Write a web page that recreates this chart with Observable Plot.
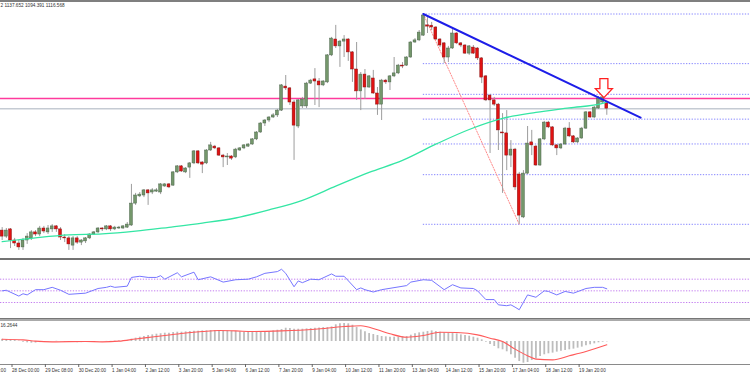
<!DOCTYPE html>
<html><head><meta charset="utf-8">
<script src="https://cdn.jsdelivr.net/npm/d3@7"></script>
<script src="https://cdn.jsdelivr.net/npm/@observablehq/plot@0.6"></script>
<style>
body{margin:0;background:#fff;}
#wrap{position:relative;width:750px;height:375px;overflow:hidden;background:#fff;font-family:"Liberation Sans",Arial,sans-serif;}
#wrap svg{position:absolute;left:0;}
.sep{position:absolute;left:0;width:750px;}
</style></head><body>
<div id="wrap"></div>
<script>
// ---- 4H candles, bar 0 = 28 Dec 00:00 ----
const barIdx = d3.range(-2, 144);
const openP = [710,690,714,677,667,654,677,684,704,697,717,704,714,724,714,687,684,660,684,670,674,684,697,704,717,714,724,714,717,717,720,727,800,824,827,844,837,840,837,857,864,860,904,924,904,920,934,974,937,934,977,990,984,960,954,957,954,977,984,990,997,1014,1037,1067,1077,1087,1094,1110,1190,1184,1137,1057,1124,1124,1200,1214,1207,1194,1204,1294,1347,1324,1340,1347,1304,1247,1174,1230,1187,1217,1167,1130,1210,1204,1224,1234,1260,1260,1287,1337,1344,1360,1394,1393,1387,1347,1334,1287,1317,1367,1334,1327,1300,1320,1317,1284,1224,1160,1144,1130,1037,1034,960,980,897,754,900,1004,990,927,1014,1070,1054,994,984,997,1050,1024,1004,1017,1050,1104,1087,1117,1137,1134.012];
const highP = [720,717,717,684,677,684,700,710,710,724,724,727,730,727,720,697,690,690,690,680,687,700,707,720,720,727,727,724,724,727,737,864,834,837,847,847,850,850,867,867,867,907,927,927,920,937,977,977,940,980,1004,994,987,964,967,960,984,987,997,1000,1017,1040,1070,1080,1090,1100,1114,1197,1227,1187,1144,1147,1154,1204,1214,1250,1217,1210,1297,1354,1394,1344,1360,1350,1307,1337,1237,1247,1227,1244,1187,1214,1214,1227,1287,1264,1270,1290,1340,1350,1377,1432,1420,1404,1390,1350,1337,1324,1380,1370,1337,1330,1327,1327,1320,1287,1227,1164,1154,1134,1100,1110,1010,984,904,910,1057,1044,994,1017,1074,1074,1057,997,1000,1054,1070,1027,1020,1054,1107,1107,1124,1157,1160,1137.652];
const lowP = [677,684,650,657,644,644,664,677,690,690,700,697,704,704,677,670,644,644,664,660,667,680,694,700,707,710,707,710,714,714,717,724,794,820,820,794,830,837,830,854,850,857,900,904,900,884,930,930,900,930,974,980,957,920,927,944,950,974,980,987,994,1010,1034,1057,1070,1084,1087,1107,1177,1127,944,1050,1117,1117,1197,1127,1120,1190,1200,1290,1317,1254,1287,1274,1204,1144,1110,1147,1184,1164,1094,1077,1197,1177,1220,1230,1250,1257,1284,1334,1340,1357,1367,1377,1344,1320,1267,1270,1314,1330,1320,1297,1294,1297,1277,1200,1140,967,1124,977,834,910,920,844,731,750,897,960,924,924,1010,1050,990,960,980,994,1020,1000,1000,1014,1047,1084,1084,1114,1134,1094.391];
const closeP = [690,710,677,667,654,677,690,704,697,717,707,717,724,714,687,684,664,684,670,677,684,697,704,717,714,724,714,720,720,724,730,800,827,830,844,834,844,844,864,864,854,904,924,907,917,934,974,934,930,977,994,984,960,954,957,950,980,984,994,997,1014,1037,1067,1077,1087,1094,1110,1194,1184,1137,1060,1144,1147,1200,1210,1207,1194,1207,1294,1350,1324,1340,1347,1304,1247,1174,1230,1187,1224,1167,1130,1210,1204,1224,1234,1260,1257,1287,1337,1344,1370,1427,1390,1387,1347,1327,1287,1317,1367,1334,1327,1300,1324,1300,1284,1220,1144,1144,1130,1044,1034,960,980,854,760,900,1000,994,927,1014,1070,1054,994,984,997,1050,1024,1004,1017,1050,1104,1087,1120,1150,1154,1116.568];

// moving average
const maIdx = [-2,6,14,22,30,38,46,54,62,70,78,86,94,102,110,118,126,134,142,143];
const maVal = [673,686,696,699,708,721,735,752,779,811,858,904,944,998,1047,1084,1104,1119,1134,1139];

// levels / drawings
const magentaLevel = 1150;
const fibHighI = 99, fibHigh = 1432, fibLowI = 122, fibLow = 731;
const fibRatios = [0, 0.236, 0.382, 0.5, 0.618, 0.764, 1];
const trendI = [99, 151.1];
const trendP = [1432, 1086.4];
const arrowI = 142.3, arrowP = 1185;

// RSI
const rsiIdx = [-2,-1,2,3,4,6,8,10,12,14,18,21,23,24,25,28,29,31,33,35,36,37,40,41,44,45,48,51,54,57,59,61,64,65,66,68,69,70,72,74,77,78,80,83,84,85,87,89,95,96,99,101,104,106,108,111,112,114,116,117,119,120,121,122,124,126,128,129,131,133,135,138,140,142,143];
const rsiVal = [50,51,41,45,43,52,52,56,51,44,46,54,56,58,56,58,73,75,73,73,76,70,81,74,82,69,74,65,69,70,74,80,83,87,80,57,67,64,70,69,79,75,75,52,55,52,48,52,59,65,69,68,52,60.5,55,54,50,35,35,26,24.5,26,22,17.6,43,39,50,49,43,49,46,54,56,56,53.5];
const rsiLevels = [30, 50, 70];

// MACD histogram (one per bar) and signal line
const macdHist = [2.0,1.8,1.5,1.0,0.4,-0.6,-1.2,-1.5,-1.4,-1.0,-0.6,-0.3,0.0,
 0.2,-0.2,-0.5,-0.9,-1.0,-1.1,-1.0,-0.9,-0.7,-0.5,-0.3,-0.1,0.1,0.2,0.3,0.4,0.5,0.7,
 2.1,3.0,3.9,4.5,5.4,6.0,6.6,7.0,7.5,7.5,8.1,8.4,8.4,8.7,9.0,9.3,9.3,9.6,9.6,9.9,9.9,9.9,9.6,9.6,9.3,9.0,8.7,8.4,8.4,
 8.4,8.4,8.4,8.7,9.0,9.6,10.2,10.8,12.0,11.7,11.1,11.1,11.1,11.4,11.7,12.0,12.3,12.6,12.6,13.2,15.1,16.0,16.26,16.0,14.7,12.6,10.5,8.7,7.2,6.3,5.4,4.5,4.2,3.9,3.9,3.9,4.2,4.5,5.7,7.0,7.8,8.4,9.0,9.6,9.0,8.4,7.8,7.5,7.2,6.9,6.0,5.4,4.8,3.9,3.0,1.5,-0.6,-2.7,-4.5,-6.6,
 -7.5,-9.3,-12.0,-15.1,-18.1,-19.6,-19.0,-17.2,-15.7,-13.6,-12.0,-11.1,-10.5,-9.6,-8.7,-8.1,-7.5,-6.9,-6.0,-5.1,-3.9,-3.0,-2.1,-1.2,-0.6,-0.3];
const sigIdx = [-2,3,6,10,18,22,26,30,34,38,42,46,50,54,58,65,73,80,84,88,91,95,99,103,107,112,115,118,121,124,126,130,134,138,143];
const sigVal = [2.1,1.5,0.3,-0.3,0,-0.3,0.3,2.3,4.1,5.9,7.7,9.0,9.9,9.6,9.0,9.6,11.1,13.5,14.2,10.6,7.0,3.9,5.4,8.4,8.1,6.0,3.0,0,-6.9,-12.9,-15.9,-16.6,-12.9,-9.0,-3.0];

// time axis
const tickIdx = [-8,0,8,16,24,32,40,48,56,64,72,80,88,96,104,112,120,128,136];
const tickLab = ["26 Dec 16:00","28 Dec 00:00","29 Dec 08:00","30 Dec 20:00","1 Jan 04:00","2 Jan 12:00","3 Jan 20:00","5 Jan 04:00","6 Jan 12:00","7 Jan 20:00","9 Jan 04:00","10 Jan 12:00","11 Jan 20:00","13 Jan 04:00","14 Jan 12:00","15 Jan 20:00","17 Jan 04:00","18 Jan 12:00","19 Jan 20:00"];

const headerText = "2 1137.652 1094.391 1116.568";
const macdLabel = "16.2644";

// ---- build ----
const bars = barIdx.map((i,k)=>({i, o:openP[k], h:highP[k], l:lowP[k], c:closeP[k]}));
const ma = maIdx.map((i,k)=>({i, v:maVal[k]}));
const rsi = rsiIdx.map((i,k)=>({i, v:rsiVal[k]}));
const hist = barIdx.map((i,k)=>({i, v:macdHist[k]}));
const sig = sigIdx.map((i,k)=>({i, v:sigVal[k]}));
const trend = trendI.map((i,k)=>({i, p:trendP[k]}));
const fibLevels = fibRatios.map(r => fibLow + r*(fibHigh-fibLow));
const fibDiag = [{i:fibHighI, p:fibHigh}, {i:fibLowI, p:fibLow}];
const lastClose = closeP[closeP.length-1];

const xDom = [-10/4.17, 740/4.17];
const xs = {domain: xDom, axis: null};
const font = "Liberation Sans, Arial, sans-serif";

const arrowSym = {draw(ctx){
  ctx.moveTo(-4,-9.5); ctx.lineTo(4,-9.5); ctx.lineTo(4,0.5); ctx.lineTo(8.5,0.5);
  ctx.lineTo(0,9.5); ctx.lineTo(-8.5,0.5); ctx.lineTo(-4,0.5); ctx.closePath();
}};

const mainH = 259;
const main = Plot.plot({
  width: 750, height: mainH, margin: 0,
  style: {background: "transparent", fontFamily: font},
  x: xs,
  y: {domain: [1477 - mainH*10/3, 1477], axis: null},
  marks: [
    Plot.ruleY(fibLevels, {y: d=>d, x1: fibHighI, x2: xDom[1], stroke: "#8585ff", strokeWidth: 1, strokeDasharray: "1.3,1.5"}),
    Plot.ruleY([lastClose], {stroke: "#c5cbd3", strokeWidth: 1.5}),
    Plot.ruleY([magentaLevel], {stroke: "#ff3a9d", strokeWidth: 1.5}),
    Plot.line(fibDiag, {x: "i", y: "p", stroke: "#ff8a8a", strokeWidth: 1, strokeDasharray: "1.3,1.5"}),
    Plot.ruleX(bars, {x: "i", y1: "l", y2: "h", stroke: "#9d9d9d", strokeWidth: 1}),
    Plot.rect(bars, {x1: d=>d.i-0.34, x2: d=>d.i+0.34, y1: "o", y2: "c",
      fill: d => d.c >= d.o ? "#74976b" : "#e01212",
      stroke: d => d.c >= d.o ? "#4a644a" : "#8a1010", strokeWidth: 0.5}),
    Plot.line(ma, {x: "i", y: "v", stroke: "#34e6a4", strokeWidth: 1.3, curve: "monotone-x"}),
    Plot.line(trend, {x: "i", y: "p", stroke: "#1d1de8", strokeWidth: 2}),
    Plot.dot([{i: arrowI, p: arrowP}], {x: "i", y: "p", symbol: arrowSym, fill: "white", stroke: "#ff2020", strokeWidth: 1.3}),
    Plot.text([headerText], {frameAnchor: "top-left", dx: 0, dy: 3, lineAnchor: "top", textAnchor: "start", fontSize: 4.7, fill: "#333", fontFamily: font})
  ]
});
main.style.top = "0px";

const rsiPlot = Plot.plot({
  width: 750, height: 58, margin: 0,
  style: {background: "transparent", fontFamily: font},
  x: xs,
  y: {domain: [0.86, 100.3], axis: null},
  marks: [
    Plot.ruleY(rsiLevels, {stroke: "#c47ef0", strokeWidth: 1, strokeDasharray: "1.3,1.5"}),
    Plot.line(rsi, {x: "i", y: "v", stroke: "#7676ff", strokeWidth: 1})
  ]
});
rsiPlot.style.top = "260.5px";

const macdPlot = Plot.plot({
  width: 750, height: 55, marginTop: 0, marginBottom: 12, marginLeft: 0, marginRight: 0,
  style: {background: "transparent", fontFamily: font, overflow: "visible"},
  x: xs,
  y: {domain: [-20.78, 18.07], axis: null},
  marks: [
    Plot.ruleX(hist, {x: "i", y1: 0, y2: "v", stroke: "#bdbdbd", strokeWidth: 1.8}),
    Plot.line(sig, {x: "i", y: "v", stroke: "#ff5a5a", strokeWidth: 1.1, curve: "monotone-x"}),
    Plot.frame({anchor: "bottom", stroke: "#8a8a8a"}),
    Plot.axisX(tickIdx, {anchor: "bottom", tickFormat: d => tickLab[tickIdx.indexOf(d)], tickSize: 3, tickPadding: 1.5, textAnchor: "start", dx: 1.5, fontSize: 4.6, fill: "#333", stroke: "#666", label: null}),
    Plot.text([macdLabel], {frameAnchor: "top-left", dx: 0, dy: 2, lineAnchor: "top", textAnchor: "start", fontSize: 4.7, fill: "#333", fontFamily: font})
  ]
});
macdPlot.style.top = "320.5px";

const wrap = document.getElementById("wrap");
wrap.append(main, rsiPlot, macdPlot);
function sep(top, h, color){ const d = document.createElement("div"); d.className = "sep"; d.style.top = top+"px"; d.style.height = h+"px"; d.style.background = color; wrap.append(d); }
sep(0, 1.5, "#7f7f7f");
sep(258.3, 2, "#737373");
sep(318.3, 1, "#777");
sep(319.3, 1.3, "#aaa");
</script>
</body></html>
